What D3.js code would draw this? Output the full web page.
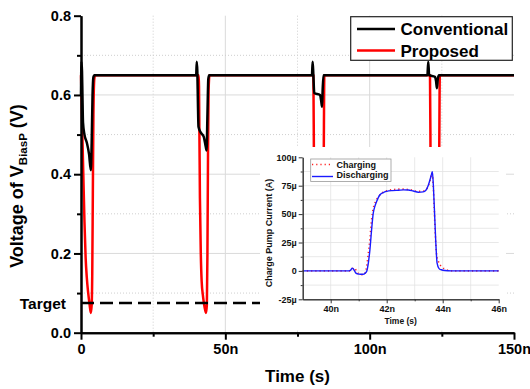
<!DOCTYPE html>
<html>
<head>
<meta charset="utf-8">
<script src="https://cdn.jsdelivr.net/npm/d3@7"></script>
<style>
  body { margin: 0; background: #fff; }
  svg { display: block; font-family: Arial, "Liberation Sans", sans-serif; }
</style>
</head>
<body>
<div id="chart"></div>
<script>

// main plot: time in ns, voltage in V
var conventional = [
  [0, 0.60], [0.15, 0.684], [0.35, 0.66], [0.5, 0.60], [0.7, 0.53], [1.2, 0.50], [2.0, 0.48],
  [2.8, 0.45], [3.4, 0.41], [3.7, 0.48], [4.0, 0.60], [4.3, 0.645], [4.6, 0.65],
  [39.9, 0.65], [40.1, 0.684], [40.3, 0.66], [40.5, 0.58], [40.7, 0.52], [41.5, 0.505],
  [42.5, 0.495], [43.2, 0.47], [43.5, 0.46], [43.8, 0.55], [44.1, 0.64], [44.4, 0.65],
  [80.0, 0.65], [80.25, 0.684], [80.5, 0.65], [80.8, 0.605], [82.8, 0.60], [83.2, 0.585],
  [83.5, 0.57], [83.7, 0.61], [84.0, 0.65],
  [120.0, 0.65], [120.3, 0.684], [120.6, 0.65], [122.6, 0.646], [123.0, 0.635],
  [123.3, 0.617], [123.6, 0.64], [124.0, 0.65], [150, 0.65]
]

var proposed = [
  [0, 0.65], [0.1, 0.62], [0.4, 0.52], [0.8, 0.40], [1.2, 0.28], [1.6, 0.19], [2.0, 0.14],
  [2.5, 0.10], [3.0, 0.07], [3.4, 0.05], [3.7, 0.07], [3.9, 0.15], [4.1, 0.35], [4.3, 0.55],
  [4.6, 0.64], [4.9, 0.65],
  [40.8, 0.65], [41.0, 0.52], [41.2, 0.34], [41.5, 0.2], [41.8, 0.13], [42.3, 0.09],
  [42.8, 0.065], [43.3, 0.05], [43.6, 0.07], [43.8, 0.2], [44.0, 0.45], [44.2, 0.61], [44.5, 0.65],
  [80.5, 0.65], [80.7, 0.42], [80.9, 0.18], [81.4, 0.08], [82.5, 0.05], [83.6, 0.06],
  [83.9, 0.2], [84.1, 0.45], [84.3, 0.65],
  [120.9, 0.65], [121.1, 0.42], [121.3, 0.16], [122, 0.07], [123, 0.05], [123.7, 0.06],
  [123.9, 0.2], [124.1, 0.45], [124.3, 0.65], [150, 0.65]
]

var targetV = 0.075

var xTicks = [0, 50, 100, 150]
var xTickLabels = ["0", "50n", "100n", "150n"]
var xMinor = [25, 75, 125]
var yTicks = [0, 0.2, 0.4, 0.6, 0.8]
var yMinor = [0.1, 0.3, 0.5, 0.7]

// inset: time in ns, current in uA
var discharging = [
  [39, 0], [40.6, 0], [40.7, 0.5], [40.77, 2.4], [40.83, 1], [40.9, -2], [41.0, -2.8],
  [41.15, -3], [41.23, -2], [41.29, 0], [41.35, 8], [41.4, 18.5], [41.46, 36], [41.52, 50.8],
  [41.58, 57], [41.64, 61], [41.7, 64.5], [41.76, 67], [41.88, 69], [42.0, 70], [42.2, 70.7],
  [42.42, 71], [42.6, 71.3], [42.77, 71.2], [42.95, 70.3], [43.13, 69.3], [43.3, 69.6],
  [43.4, 71], [43.49, 75.7], [43.55, 80.5], [43.6, 85], [43.63, 87.4], [43.66, 78],
  [43.7, 56.6], [43.75, 27], [43.8, 6.8], [43.87, 2], [43.95, 1], [44.08, 0.3], [44.3, 0], [46, 0]
]

var charging = [
  [39, 0], [40.65, 0], [40.75, 1], [40.84, 2.9], [40.92, 0], [41.0, -2.5], [41.19, -3.5],
  [41.24, -1], [41.28, 3], [41.33, 12.6], [41.4, 28], [41.46, 45], [41.52, 55], [41.6, 61],
  [41.7, 65], [41.8, 68], [42.0, 70.5], [42.2, 71.5], [42.5, 72], [42.8, 71.6], [43.1, 70],
  [43.3, 70.3], [43.45, 73], [43.55, 80], [43.62, 86], [43.65, 80], [43.69, 60], [43.73, 35],
  [43.78, 15], [43.85, 8], [43.95, 4], [44.05, 2], [44.2, 0.5], [44.4, 0], [46, 0]
]

var insetXTicks = [40, 42, 44, 46]
var insetXMinor = [41, 43, 45]
var insetYTicks = [-25, 0, 25, 50, 75, 100]
var insetYLabels = ["-25\u00b5", "0", "25\u00b5", "50\u00b5", "75\u00b5", "100\u00b5"]
var insetYMinor = [-12.5, 12.5, 37.5, 62.5, 87.5]

var width = 530, height = 389

var svg = d3.select("#chart").append("svg")
    .attr("width", width)
    .attr("height", height)

svg.append("rect").attr("width", width).attr("height", height).attr("fill", "#fff")

var x = d3.scaleLinear().domain([0, 150]).range([81, 514])
var y = d3.scaleLinear().domain([0, 0.8]).range([332.7, 15.7])

// gridlines
var grid = svg.append("g")
grid.selectAll(".vmaj").data([50, 100]).join("line")
    .attr("x1", d => x(d)).attr("x2", d => x(d))
    .attr("y1", y(0.8)).attr("y2", y(0))
    .attr("stroke", "#dadada").attr("stroke-width", 1)
grid.selectAll(".vmin").data(xMinor).join("line")
    .attr("x1", d => x(d)).attr("x2", d => x(d))
    .attr("y1", y(0.8)).attr("y2", y(0))
    .attr("stroke", "#cfcfcf").attr("stroke-width", 1)
    .style("stroke-dasharray", "1,2")
grid.selectAll(".hmaj").data([0.2, 0.4, 0.6]).join("line")
    .attr("class", "hmaj")
    .attr("x1", x(0)).attr("x2", x(150))
    .attr("y1", d => y(d)).attr("y2", d => y(d))
    .attr("stroke", "#dadada").attr("stroke-width", 1)
grid.selectAll(".hmin").data(yMinor).join("line")
    .attr("class", "hmin")
    .attr("x1", x(0)).attr("x2", x(150))
    .attr("y1", d => y(d)).attr("y2", d => y(d))
    .attr("stroke", "#cfcfcf").attr("stroke-width", 1)
    .style("stroke-dasharray", "1,2")

var line = d3.line()
    .x(d => x(d[0]))
    .y(d => y(d[1]))
    .curve(d3.curveMonotoneX)

svg.append("path")
    .datum(proposed)
    .attr("d", line)
    .attr("fill", "none")
    .attr("stroke", "#ff0000")
    .attr("stroke-width", 2.5)
    .attr("stroke-linejoin", "round")

svg.append("path")
    .datum(conventional)
    .attr("d", line)
    .attr("fill", "none")
    .attr("stroke", "#000")
    .attr("stroke-width", 2.5)
    .attr("stroke-linejoin", "round")

// target level
svg.append("line")
    .attr("x1", x(0)).attr("x2", 262)
    .attr("y1", y(targetV)).attr("y2", y(targetV))
    .attr("stroke", "#000")
    .attr("stroke-width", 2.5)
    .style("stroke-dasharray", "13,6")

svg.append("text")
    .attr("x", 66).attr("y", y(targetV) + 6)
    .attr("text-anchor", "end")
    .attr("font-size", 15.5).attr("font-weight", "bold")
    .text("Target")

// main axes
var yAxis = svg.append("g")
    .attr("transform", "translate(" + x(0) + ",0)")
    .call(d3.axisLeft(y).tickValues(yTicks).tickFormat(d3.format(".1f")).tickSize(7).tickSizeOuter(0).tickPadding(3))
yAxis.append("g").call(d3.axisLeft(y).tickValues(yMinor).tickFormat("").tickSize(4).tickSizeOuter(0))
yAxis.selectAll("path, line").attr("stroke", "#000").attr("stroke-width", 2)
yAxis.selectAll("text").attr("font-size", 14.5).attr("font-weight", "bold").attr("fill", "#000")

var xAxis = svg.append("g")
    .attr("transform", "translate(0," + y(0) + ")")
    .call(d3.axisBottom(x).tickValues(xTicks).tickFormat((d, i) => xTickLabels[i]).tickSize(7).tickSizeOuter(0).tickPadding(4))
xAxis.append("g").call(d3.axisBottom(x).tickValues(xMinor).tickFormat("").tickSize(4).tickSizeOuter(0))
xAxis.selectAll("path, line").attr("stroke", "#000").attr("stroke-width", 2)
xAxis.selectAll("text").attr("font-size", 14.5).attr("font-weight", "bold").attr("fill", "#000")

svg.append("text")
    .attr("x", 297.5).attr("y", 382)
    .attr("text-anchor", "middle")
    .attr("font-size", 17).attr("font-weight", "bold")
    .text("Time (s)")

var ylab = svg.append("text")
    .attr("transform", "translate(22.5,186) rotate(-90)")
    .attr("text-anchor", "middle")
    .attr("font-size", 18).attr("font-weight", "bold")
ylab.append("tspan").text("Voltage of V")
ylab.append("tspan").attr("dy", 4.5).attr("font-size", 11.5).text("BiasP")
ylab.append("tspan").attr("dy", -4.5).text(" (V)")

// main legend
var leg = svg.append("g")
leg.append("rect")
    .attr("x", 350.7).attr("y", 16.7).attr("width", 161.6).attr("height", 43.6)
    .attr("fill", "#fff").attr("stroke", "#222").attr("stroke-width", 1.2)
var legItems = [["Conventional", "#000", 29], ["Proposed", "#ff0000", 50.5]]
legItems.forEach(function (it) {
  leg.append("line")
      .attr("x1", 357).attr("x2", 395)
      .attr("y1", it[2]).attr("y2", it[2])
      .attr("stroke", it[1]).attr("stroke-width", 2.5)
  leg.append("text")
      .attr("x", 400.5).attr("y", it[2] + 6)
      .attr("font-size", 17).attr("font-weight", "bold")
      .text(it[0])
})

// inset
var inset = svg.append("g")
inset.append("rect")
    .attr("x", 260).attr("y", 147).attr("width", 246).attr("height", 183)
    .attr("fill", "#fff")

var xi = d3.scaleLinear().domain([39, 46]).range([302.7, 498.7])
var yi = d3.scaleLinear().domain([-25, 100]).range([299.3, 157.3])

inset.selectAll(".ivg").data(d3.range(40, 46)).join("line")
    .attr("x1", d => xi(d)).attr("x2", d => xi(d))
    .attr("y1", yi(100)).attr("y2", yi(-25))
    .attr("stroke", "#e2e2e2").attr("stroke-width", 0.8)
inset.selectAll(".ihg").data(insetYMinor.concat([0, 25, 50, 75])).join("line")
    .attr("class", "ihg")
    .attr("x1", xi(39)).attr("x2", xi(46))
    .attr("y1", d => yi(d)).attr("y2", d => yi(d))
    .attr("stroke", "#e2e2e2").attr("stroke-width", 0.8)

var iline = d3.line()
    .x(d => xi(d[0]))
    .y(d => yi(d[1]))
    .curve(d3.curveMonotoneX)

inset.append("path")
    .datum(charging)
    .attr("d", iline)
    .attr("fill", "none")
    .attr("stroke", "#ff2020")
    .attr("stroke-width", 1.6)
    .style("stroke-dasharray", "1.2,3")

inset.append("path")
    .datum(discharging)
    .attr("d", iline)
    .attr("fill", "none")
    .attr("stroke", "#1a1aff")
    .attr("stroke-width", 1.4)

var iyAxis = inset.append("g")
    .attr("transform", "translate(" + xi(39) + ",0)")
    .call(d3.axisLeft(yi).tickValues(insetYTicks).tickFormat((d, i) => insetYLabels[i]).tickSize(4).tickSizeOuter(0).tickPadding(2))
iyAxis.append("g").call(d3.axisLeft(yi).tickValues(insetYMinor).tickFormat("").tickSize(2).tickSizeOuter(0))
iyAxis.selectAll("path, line").attr("stroke", "#333").attr("stroke-width", 1)
iyAxis.selectAll("text").attr("font-size", 9).attr("font-weight", "bold").attr("fill", "#111")

var ixAxis = inset.append("g")
    .attr("transform", "translate(0," + yi(-25) + ")")
    .call(d3.axisBottom(xi).tickValues(insetXTicks).tickFormat(d => d + "n").tickSize(4).tickSizeOuter(0).tickPadding(2))
ixAxis.append("g").call(d3.axisBottom(xi).tickValues(insetXMinor).tickFormat("").tickSize(2).tickSizeOuter(0))
ixAxis.selectAll("path, line").attr("stroke", "#333").attr("stroke-width", 1)
ixAxis.selectAll("text").attr("font-size", 9).attr("font-weight", "bold").attr("fill", "#111")

inset.append("text")
    .attr("x", 400.7).attr("y", 324)
    .attr("text-anchor", "middle")
    .attr("font-size", 8.5).attr("font-weight", "bold").attr("fill", "#111")
    .text("Time (s)")

inset.append("text")
    .attr("transform", "translate(271.5,233) rotate(-90)")
    .attr("text-anchor", "middle")
    .attr("font-size", 9).attr("font-weight", "bold").attr("fill", "#111")
    .text("Charge Pump Current (A)")

// inset legend
var ileg = inset.append("g")
ileg.append("rect")
    .attr("x", 310.7).attr("y", 159).attr("width", 80.3).attr("height", 22.5)
    .attr("fill", "#fff").attr("stroke", "#999").attr("stroke-width", 0.8)
ileg.append("line")
    .attr("x1", 312).attr("x2", 333).attr("y1", 164.5).attr("y2", 164.5)
    .attr("stroke", "#ff2020").attr("stroke-width", 1.6)
    .style("stroke-dasharray", "1.2,3")
ileg.append("line")
    .attr("x1", 312).attr("x2", 333).attr("y1", 176.5).attr("y2", 176.5)
    .attr("stroke", "#1a1aff").attr("stroke-width", 1.4)
ileg.append("text")
    .attr("x", 336.5).attr("y", 168)
    .attr("font-size", 9).attr("font-weight", "bold").attr("fill", "#111")
    .text("Charging")
ileg.append("text")
    .attr("x", 336.5).attr("y", 178)
    .attr("font-size", 9).attr("font-weight", "bold").attr("fill", "#111")
    .text("Discharging")

</script>
</body>
</html>
